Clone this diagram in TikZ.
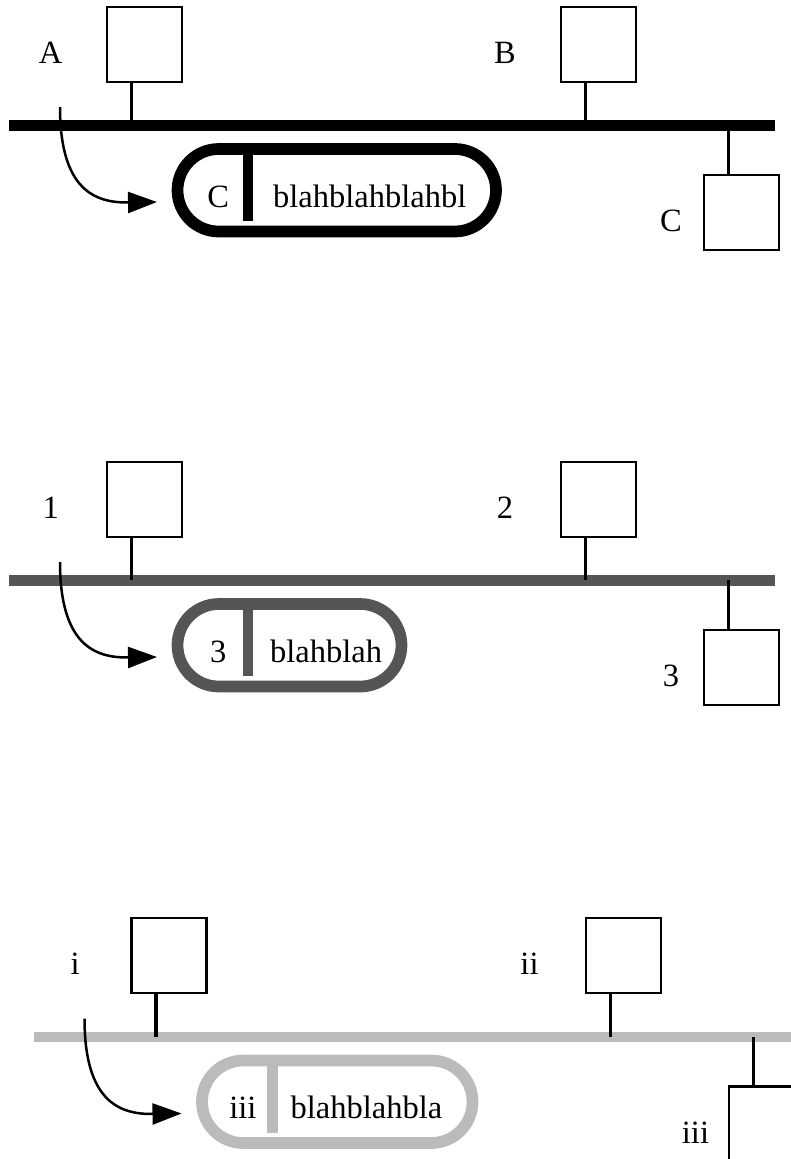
\documentclass[tikz,border=0pt]{standalone}
\usepackage{fontspec}
\setmainfont{Liberation Serif}
\usetikzlibrary{arrows.meta}
\definecolor{busdark}{HTML}{000000}
\definecolor{busmid}{HTML}{555555}
\definecolor{buslight}{HTML}{BBBBBB}
\tikzset{
  station/.style={draw=black, line width=2.2pt, minimum size=75pt, inner sep=0pt, fill=white},
  tap/.style={line width=3.2pt, draw=black},
  busline/.style={line width=10.5pt},
  pill/.style={draw, line width=11.7pt, rounded corners=41.25pt, minimum height=82.5pt, inner sep=0pt},
  divider/.style={line width=10.7pt},
  lab/.style={anchor=base, inner sep=0pt, font=\fontsize{32.5}{37}\selectfont},
  flow/.style={line width=2.5pt, -{Triangle[length=29pt,width=21pt]}},
}
\newcommand\buspanel[9]{%
  \begin{scope}[shift={#9}]
    \pgfmathsetmacro\pillw{#7-177.5}
    \pgfmathsetmacro\pillc{(#7+177.5)/2}
    \coordinate (#1busL) at (9,125.3);
    \coordinate (#1busR) at (775,125.3);
    \draw[busline, draw=#2] (#1busL) -- (#1busR);
    \node[station] (#1a) at (144.5,44.2) {};
    \node[station] (#1b) at (598.8,44.2) {};
    \node[station] (#1c) at (741.7,212.5) {};
    \draw[tap] ([xshift=-13pt]#1a.south) -- ([xshift=-13pt]#1a.south |- #1busL);
    \draw[tap] ([xshift=-13pt]#1b.south) -- ([xshift=-13pt]#1b.south |- #1busL);
    \draw[tap] ([xshift=-13pt]#1c.north |- #1busL) -- ([xshift=-13pt]#1c.north);
    \node[lab] (#1la) at (50.7,63.3) {#3};
    \node[lab] (#1lb) at (505,63.3) {#4};
    \node[lab] (#1lc) at (671,231.7) {#5};
    \node[pill, draw=#2, minimum width=\pillw pt] (#1pill) at (\pillc,190.25) {};
    \coordinate (#1divb) at (248,221);
    \draw[divider, draw=#2] (#1pill.north -| #1divb) -- (#1divb);
    \node[lab] (#1pk) at (218.3,207.3) {#5};
    \node[lab, anchor=base west] (#1pt) at (#8,207.3) {#6};
    \coordinate (#1arrs) at (60,107);
    \coordinate (#1arre) at (157,202);
    \draw[flow] (#1arrs) .. controls (60,190) and (95,203) .. (#1arre);
  \end{scope}
}
\begin{document}
\begin{tikzpicture}[x=1pt,y=-1pt]
  \useasboundingbox (0,0) rectangle (791,1159);
  \buspanel{p}{busdark}{A}{B}{C}{blahblahblahbl}{496}{273}{(0,0)}
  \buspanel{q}{busmid}{1}{2}{3}{blahblah}{401.5}{270}{(0,455)}
  \buspanel{r}{buslight}{i}{ii}{iii}{blahblahbla}{448}{266}{(24.5,911.5)}
\end{tikzpicture}
\end{document}
